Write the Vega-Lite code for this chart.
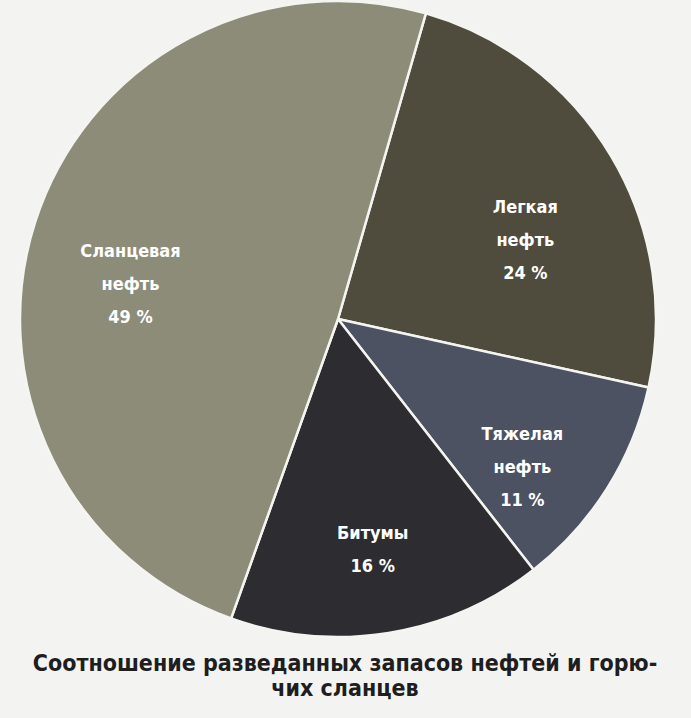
{
  "$schema": "https://vega.github.io/schema/vega-lite/v6.json",
  "width": 676,
  "height": 636,
  "autosize": {"type": "none"},
  "padding": {"left": 0, "top": 1, "right": 15, "bottom": 81},
  "background": "#f3f3f2",
  "view": {"stroke": null},
  "title": {
    "text": ["Соотношение разведанных запасов нефтей и горю-", "чих сланцев"],
    "orient": "bottom",
    "anchor": "middle",
    "offset": 11,
    "dx": 7,
    "font": "DejaVu Sans Condensed",
    "fontSize": 23,
    "fontWeight": "bold",
    "color": "#1e1e1e",
    "lineHeight": 25
  },
  "data": {
    "values": [
      {"name": "Легкая нефть", "label": "Легкая\nнефть\n24 %", "share": 24, "ord": 1},
      {"name": "Тяжелая нефть", "label": "Тяжелая\nнефть\n11 %", "share": 11, "ord": 2},
      {"name": "Битумы", "label": "Битумы\n16 %", "share": 16, "ord": 3},
      {"name": "Сланцевая нефть", "label": "Сланцевая\nнефть\n49 %", "share": 49, "ord": 4}
    ]
  },
  "encoding": {
    "theta": {"field": "share", "type": "quantitative", "stack": true, "scale": {"range": [0.28, 6.5632]}},
    "order": {"field": "ord", "type": "quantitative"}
  },
  "layer": [
    {
      "mark": {"type": "arc", "outerRadius": 318, "stroke": "#f4f4f0", "strokeWidth": 2.5},
      "encoding": {
        "color": {
          "field": "name",
          "type": "nominal",
          "scale": {
            "domain": ["Легкая нефть", "Тяжелая нефть", "Битумы", "Сланцевая нефть"],
            "range": ["#4f4c3e", "#4c5261", "#2c2c31", "#8c8c79"]
          },
          "legend": null
        }
      }
    },
    {
      "mark": {
        "type": "text",
        "radius": 218,
        "lineBreak": "\n",
        "lineHeight": 33,
        "font": "DejaVu Sans Condensed",
        "fontSize": 18,
        "fontWeight": "bold",
        "color": "#ffffff",
        "align": "center",
        "baseline": "middle"
      },
      "encoding": {
        "text": {"field": "label", "type": "nominal"}
      }
    }
  ]
}
